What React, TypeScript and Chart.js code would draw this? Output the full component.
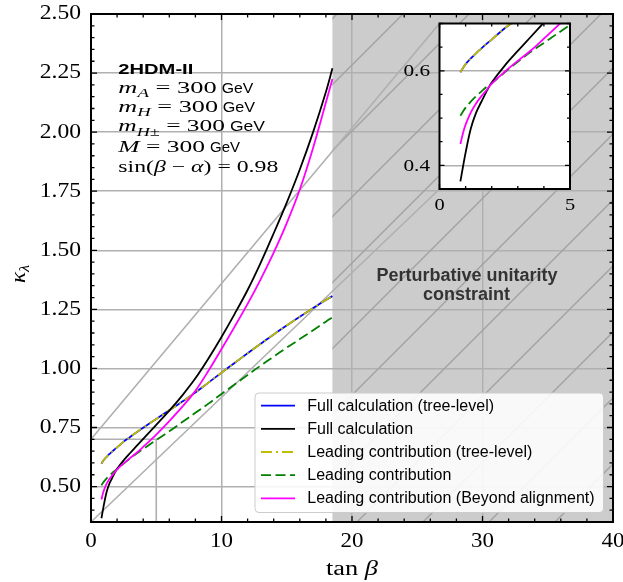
import { useEffect, useRef } from "react";
import { Chart, registerables } from "chart.js";

Chart.register(...registerables);

// ---- data ----
const tanBeta = [0.8, 0.9, 1.0, 1.2, 1.4, 1.6, 1.8, 2.0, 2.5, 3.0, 3.5, 4.0, 5, 6, 7, 8, 9, 10, 11, 12, 13, 14, 15, 16, 17, 18, 18.5];
const fullTree = [0.597, 0.606, 0.614, 0.626, 0.637, 0.647, 0.657, 0.666, 0.69, 0.71, 0.73, 0.749, 0.786, 0.823, 0.86, 0.898, 0.94, 0.982, 1.023, 1.064, 1.104, 1.144, 1.182, 1.219, 1.255, 1.29, 1.306];
const full = [0.366, 0.397, 0.427, 0.478, 0.511, 0.534, 0.556, 0.575, 0.611, 0.642, 0.672, 0.702, 0.761, 0.821, 0.886, 0.958, 1.042, 1.133, 1.23, 1.332, 1.447, 1.572, 1.702, 1.842, 1.997, 2.17, 2.27];
const leadingTree = [0.597, 0.606, 0.614, 0.626, 0.637, 0.647, 0.657, 0.666, 0.69, 0.71, 0.73, 0.749, 0.786, 0.823, 0.86, 0.898, 0.94, 0.982, 1.023, 1.064, 1.104, 1.144, 1.182, 1.219, 1.255, 1.29, 1.306];
const leading = [0.505, 0.514, 0.522, 0.535, 0.546, 0.556, 0.566, 0.573, 0.597, 0.619, 0.64, 0.659, 0.697, 0.734, 0.773, 0.812, 0.851, 0.892, 0.932, 0.972, 1.012, 1.05, 1.088, 1.124, 1.161, 1.198, 1.216];
const beyondAlign = [0.445, 0.468, 0.486, 0.512, 0.531, 0.546, 0.559, 0.573, 0.598, 0.621, 0.643, 0.668, 0.72, 0.777, 0.838, 0.905, 0.99, 1.082, 1.176, 1.273, 1.377, 1.49, 1.615, 1.757, 1.93, 2.125, 2.225];

const seriesLabels = [
  "Full calculation (tree-level)",
  "Full calculation",
  "Leading contribution (tree-level)",
  "Leading contribution",
  "Leading contribution (Beyond alignment)",
];
const seriesValues = [fullTree, full, leadingTree, leading, beyondAlign];
const seriesColors = ["#0000ff", "#000000", "#bfbf00", "#008000", "#ff00ff"];
const seriesDash: number[][] = [[], [], [11, 4, 2, 4], [10, 4.5], []];
const seriesOrder = [5, 2, 3, 4, 1];

const xTicksMain = [0, 10, 20, 30, 40];
const unitarityLimit = 18.5; // tan beta above which perturbative unitarity is violated
const zoomBox = { x0: 0, x1: 5, y0: 0.35, y1: 0.7 };

const annotationTitle = "2HDM-II";
const constraintLines = ["Perturbative unitarity", "constraint"];

// ---- helpers ----
const RM = (s: number) => `${s}px "Liberation Serif"`;
const IT = (s: number) => `italic ${s}px "Liberation Serif"`;

type Piece = { t: string; f: string; dy?: number };

function drawRun(ctx: CanvasRenderingContext2D, pieces: Piece[], x0: number, x1: number | null, y: number, sxFixed = 1) {
  ctx.save();
  ctx.textAlign = "left";
  ctx.textBaseline = "alphabetic";
  const widths = pieces.map((p) => {
    ctx.font = p.f;
    return ctx.measureText(p.t).width;
  });
  const total = widths.reduce((a, b) => a + b, 0);
  const sx = x1 === null ? sxFixed : (x1 - x0) / total;
  let x = x0;
  pieces.forEach((p, i) => {
    ctx.font = p.f;
    ctx.save();
    ctx.translate(x, y + (p.dy || 0));
    ctx.scale(sx, 1);
    ctx.fillText(p.t, 0, 0);
    ctx.restore();
    x += widths[i] * sx;
  });
  ctx.restore();
}

function stretchText(ctx: CanvasRenderingContext2D, s: string, x: number, y: number, font: string, sx: number, align: CanvasTextAlign, baseline: CanvasTextBaseline) {
  ctx.save();
  ctx.font = font;
  ctx.textAlign = align;
  ctx.textBaseline = baseline;
  ctx.translate(x, y);
  ctx.scale(sx, 1);
  ctx.fillText(s, 0, 0);
  ctx.restore();
}

function buildDatasets() {
  return seriesLabels.map((label, i) => ({
    label,
    data: tanBeta.map((x, k) => ({ x, y: seriesValues[i][k] })),
    borderColor: seriesColors[i],
    backgroundColor: seriesColors[i],
    borderDash: seriesDash[i],
    borderWidth: 1.8,
    pointRadius: 0,
    fill: false,
    tension: 0.35,
    order: seriesOrder[i],
  }));
}

// inset frame location in main-canvas pixels
const INSET_LEFT = 380;
const INSET_TOP = 10;

export default function App() {
  const mainRef = useRef<HTMLCanvasElement>(null);
  const insetRef = useRef<HTMLCanvasElement>(null);

  useEffect(() => {
    const GRID = "#b0b0b0";

    const mainPlugin = {
      id: "mainDecor",
      beforeDraw(chart: any) {
        const { ctx, chartArea: a, scales } = chart;
        const xs = scales.x.getPixelForValue(unitarityLimit);
        ctx.save();
        ctx.fillStyle = "#fff";
        ctx.fillRect(0, 0, chart.width, chart.height);
        ctx.fillStyle = "#cccccc";
        ctx.fillRect(xs, a.top, a.right - xs, a.bottom - a.top);
        ctx.restore();
      },
      beforeDatasetsDraw(chart: any) {
        const { ctx, chartArea: a, scales } = chart;
        const xs = scales.x.getPixelForValue(unitarityLimit);
        // hatch
        ctx.save();
        ctx.beginPath();
        ctx.rect(xs, a.top, a.right - xs, a.bottom - a.top);
        ctx.clip();
        ctx.strokeStyle = "#a2a2a2";
        ctx.lineWidth = 1.4;
        const H = a.bottom - a.top;
        const sp = 66;
        const phase = 357 - (a.bottom - 390);
        for (let bx = phase - 20 * sp; bx < a.right + sp; bx += sp) {
          ctx.beginPath();
          ctx.moveTo(bx, a.bottom);
          ctx.lineTo(bx + H, a.top);
          ctx.stroke();
        }
        ctx.restore();
        // zoom indicator + connectors
        const inset = (chart as any)._insetChart;
        const px0 = scales.x.getPixelForValue(zoomBox.x0);
        const px1 = scales.x.getPixelForValue(zoomBox.x1);
        const py0 = scales.y.getPixelForValue(zoomBox.y0);
        const py1 = scales.y.getPixelForValue(zoomBox.y1);
        ctx.save();
        ctx.strokeStyle = GRID;
        ctx.lineWidth = 1.6;
        ctx.beginPath();
        ctx.moveTo(px0, py1);
        ctx.lineTo(px1, py1);
        ctx.lineTo(px1, py0);
        ctx.stroke();
        let cl = 439.5, ct = 23.5, cb = 189;
        if (inset && inset.chartArea) {
          cl = INSET_LEFT + inset.chartArea.left;
          ct = INSET_TOP + inset.chartArea.top;
          cb = INSET_TOP + inset.chartArea.bottom;
        }
        ctx.beginPath();
        ctx.moveTo(px0, py0);
        ctx.lineTo(cl, cb);
        ctx.moveTo(px0, py1);
        ctx.lineTo(cl, ct);
        ctx.stroke();
        ctx.restore();
      },
      afterDatasetsDraw(chart: any) {
        const { ctx, chartArea: a, scales } = chart;
        const sx = scales.x, sy = scales.y;
        ctx.save();
        // ticks inward all sides
        ctx.strokeStyle = "#000";
        ctx.lineWidth = 1.3;
        for (let k = 0; k <= 20; k++) {
          const v = k * 2;
          const p = sx.getPixelForValue(v);
          const L = v % 10 === 0 ? 6 : 3.5;
          ctx.beginPath();
          ctx.moveTo(p, a.bottom);
          ctx.lineTo(p, a.bottom - L);
          ctx.moveTo(p, a.top);
          ctx.lineTo(p, a.top + L);
          ctx.stroke();
        }
        for (let k = 7; k <= 50; k++) {
          const v = k * 0.05;
          const p = sy.getPixelForValue(v);
          const L = k % 5 === 0 ? 6 : 3.5;
          ctx.beginPath();
          ctx.moveTo(a.left, p);
          ctx.lineTo(a.left + L, p);
          ctx.moveTo(a.right, p);
          ctx.lineTo(a.right - L, p);
          ctx.stroke();
        }
        // frame
        ctx.lineWidth = 2;
        ctx.strokeRect(a.left, a.top, a.right - a.left, a.bottom - a.top);

        // tick labels
        ctx.fillStyle = "#000";
        sx.ticks.forEach((t: any) => {
          stretchText(ctx, String(t.value), sx.getPixelForValue(t.value), 541.5, RM(20.5), 1.12, "center", "middle");
        });
        sy.ticks.forEach((t: any) => {
          stretchText(ctx, t.value.toFixed(2), 81, sy.getPixelForValue(t.value), RM(20.5), 1.15, "right", "middle");
        });

        // axis titles
        drawRun(ctx, [{ t: "tan ", f: RM(20.5) }, { t: "β", f: IT(20.5) }], 326, 378, 575);
        ctx.save();
        ctx.translate(25, 283);
        ctx.rotate(-Math.PI / 2);
        drawRun(ctx, [{ t: "κ", f: IT(21) }, { t: "λ", f: IT(15), dy: 4 }], 0, null, 0, 1.1);
        ctx.restore();

        // annotation block
        ctx.fillStyle = "#000";
        drawRun(ctx, [{ t: annotationTitle, f: 'bold 15px "Liberation Sans"' }], 118.3, 193.3, 73.5);
        const S = 17.5, SB = 12.5;
        const GEV = '15.5px "Liberation Sans"';
        drawRun(ctx, [{ t: "m", f: IT(S) }, { t: "A", f: IT(SB), dy: 4 }, { t: " = 300", f: RM(S) }], 118.3, 216.7, 93);
        drawRun(ctx, [{ t: "GeV", f: GEV }], 221.7, 253.3, 93);
        drawRun(ctx, [{ t: "m", f: IT(S) }, { t: "H", f: IT(SB), dy: 4 }, { t: " = 300", f: RM(S) }], 118.3, 218, 112);
        drawRun(ctx, [{ t: "GeV", f: GEV }], 222.7, 255, 112);
        drawRun(ctx, [{ t: "m", f: IT(S) }, { t: "H±", f: IT(SB), dy: 5 }, { t: " = 300", f: RM(S) }], 118.3, 225, 131);
        drawRun(ctx, [{ t: "GeV", f: GEV }], 230, 265, 131);
        drawRun(ctx, [{ t: "M", f: IT(S) }, { t: " = 300", f: RM(S) }], 118.3, 205, 152);
        drawRun(ctx, [{ t: "GeV", f: GEV }], 210, 240, 152);
        drawRun(
          ctx,
          [
            { t: "sin(", f: RM(S) },
            { t: "β", f: IT(S) },
            { t: " − ", f: RM(S) },
            { t: "α", f: IT(S) },
            { t: ") = 0.98", f: RM(S) },
          ],
          118.3,
          278.3,
          172
        );

        // constraint text
        ctx.fillStyle = "#333333";
        ctx.font = 'bold 18px "Liberation Sans"';
        ctx.textAlign = "center";
        ctx.textBaseline = "middle";
        ctx.fillText(constraintLines[0], 467, 276);
        ctx.fillText(constraintLines[1], 466.5, 295);

        // legend
        const lx = 255, ly = 393, lw = 348.5, lh = 119.5;
        ctx.beginPath();
        (ctx as any).roundRect(lx, ly, lw, lh, 4);
        ctx.fillStyle = "rgba(255,255,255,0.88)";
        ctx.fill();
        ctx.strokeStyle = "#cccccc";
        ctx.lineWidth = 1;
        ctx.stroke();
        chart.data.datasets.forEach((ds: any, i: number) => {
          const yy = 405.7 + i * 23.15;
          ctx.save();
          ctx.strokeStyle = ds.borderColor;
          ctx.lineWidth = 1.8;
          ctx.setLineDash(ds.borderDash || []);
          ctx.beginPath();
          ctx.moveTo(261, yy);
          ctx.lineTo(295, yy);
          ctx.stroke();
          ctx.restore();
          ctx.fillStyle = "#000";
          ctx.font = '16px "Liberation Sans"';
          ctx.textAlign = "left";
          ctx.textBaseline = "middle";
          ctx.fillText(ds.label, 307.3, yy + 0.5);
        });
        ctx.restore();
      },
    };

    const insetPlugin = {
      id: "insetDecor",
      beforeDraw(chart: any) {
        const { ctx, chartArea: a } = chart;
        ctx.save();
        ctx.fillStyle = "#fff";
        ctx.fillRect(a.left, a.top, a.right - a.left, a.bottom - a.top);
        ctx.restore();
      },
      afterDatasetsDraw(chart: any) {
        const { ctx, chartArea: a, scales } = chart;
        const sx = scales.x, sy = scales.y;
        ctx.save();
        ctx.strokeStyle = "#000";
        ctx.lineWidth = 1.3;
        for (let v = 0; v <= 5; v++) {
          const p = sx.getPixelForValue(v);
          const L = v % 5 === 0 ? 5 : 3;
          ctx.beginPath();
          ctx.moveTo(p, a.bottom);
          ctx.lineTo(p, a.bottom - L);
          ctx.moveTo(p, a.top);
          ctx.lineTo(p, a.top + L);
          ctx.stroke();
        }
        for (let k = 7; k <= 14; k++) {
          const v = k * 0.05;
          const p = sy.getPixelForValue(v);
          const L = k === 8 || k === 12 ? 5 : 3;
          ctx.beginPath();
          ctx.moveTo(a.left, p);
          ctx.lineTo(a.left + L, p);
          ctx.moveTo(a.right, p);
          ctx.lineTo(a.right - L, p);
          ctx.stroke();
        }
        ctx.lineWidth = 2;
        ctx.strokeRect(a.left, a.top, a.right - a.left, a.bottom - a.top);
        ctx.fillStyle = "#000";
        sx.ticks.forEach((t: any) => {
          stretchText(ctx, String(t.value), sx.getPixelForValue(t.value), 196, RM(17), 1.2, "center", "middle");
        });
        sy.ticks.forEach((t: any) => {
          stretchText(ctx, t.value.toFixed(1), 50, sy.getPixelForValue(t.value) + 1, RM(17), 1.25, "right", "middle");
        });
        ctx.restore();
      },
    };

    const inset = new Chart(insetRef.current!, {
      type: "line",
      data: { datasets: buildDatasets() as any },
      options: {
        animation: false,
        responsive: false,
        devicePixelRatio: 1,
        layout: { padding: { top: 13.5, right: 10, left: 0, bottom: 0 } },
        plugins: { legend: { display: false }, tooltip: { enabled: false } },
        scales: {
          x: {
            type: "linear",
            min: 0,
            max: 5,
            ticks: { display: false, stepSize: 5 },
            grid: { display: false, drawTicks: false },
            border: { display: false },
            afterFit: (s: any) => {
              s.height = 31;
              s.paddingLeft = 0;
              s.paddingRight = 0;
            },
          },
          y: {
            type: "linear",
            min: 0.35,
            max: 0.7,
            ticks: { display: false, stepSize: 0.2, includeBounds: false },
            grid: { color: GRID, lineWidth: 1.5, drawTicks: false },
            border: { display: false },
            afterFit: (s: any) => {
              s.width = 59.5;
              s.paddingTop = 0;
              s.paddingBottom = 0;
            },
          },
        },
      } as any,
      plugins: [insetPlugin],
    });

    const mainChart = new Chart(mainRef.current!, {
      type: "line",
      data: { datasets: buildDatasets() as any },
      options: {
        animation: false,
        responsive: false,
        devicePixelRatio: 1,
        layout: { padding: { top: 14, right: 10, left: 0, bottom: 0 } },
        plugins: { legend: { display: false }, tooltip: { enabled: false } },
        scales: {
          x: {
            type: "linear",
            min: xTicksMain[0],
            max: xTicksMain[xTicksMain.length - 1],
            ticks: { display: false, stepSize: 10 },
            grid: { color: GRID, lineWidth: 1.5, drawTicks: false },
            border: { display: false },
            afterFit: (s: any) => {
              s.height = 60;
              s.paddingLeft = 0;
              s.paddingRight = 0;
            },
          },
          y: {
            type: "linear",
            min: 0.35,
            max: 2.5,
            ticks: { display: false, stepSize: 0.25, includeBounds: false },
            grid: { color: GRID, lineWidth: 1.5, drawTicks: false },
            border: { display: false },
            afterFit: (s: any) => {
              s.width = 91;
              s.paddingTop = 0;
              s.paddingBottom = 0;
            },
          },
        },
      } as any,
      plugins: [mainPlugin],
    });
    (mainChart as any)._insetChart = inset;
    mainChart.draw();

    return () => {
      mainChart.destroy();
      inset.destroy();
    };
  }, []);

  return (
    <div style={{ position: "fixed", left: 0, top: 0, width: 623, height: 582, background: "#fff" }}>
      <canvas
        ref={mainRef}
        width={623}
        height={582}
        style={{ position: "absolute", left: 0, top: 0, width: 623, height: 582 }}
      />
      <canvas
        ref={insetRef}
        width={200}
        height={210}
        style={{ position: "absolute", left: INSET_LEFT, top: INSET_TOP, width: 200, height: 210 }}
      />
    </div>
  );
}
